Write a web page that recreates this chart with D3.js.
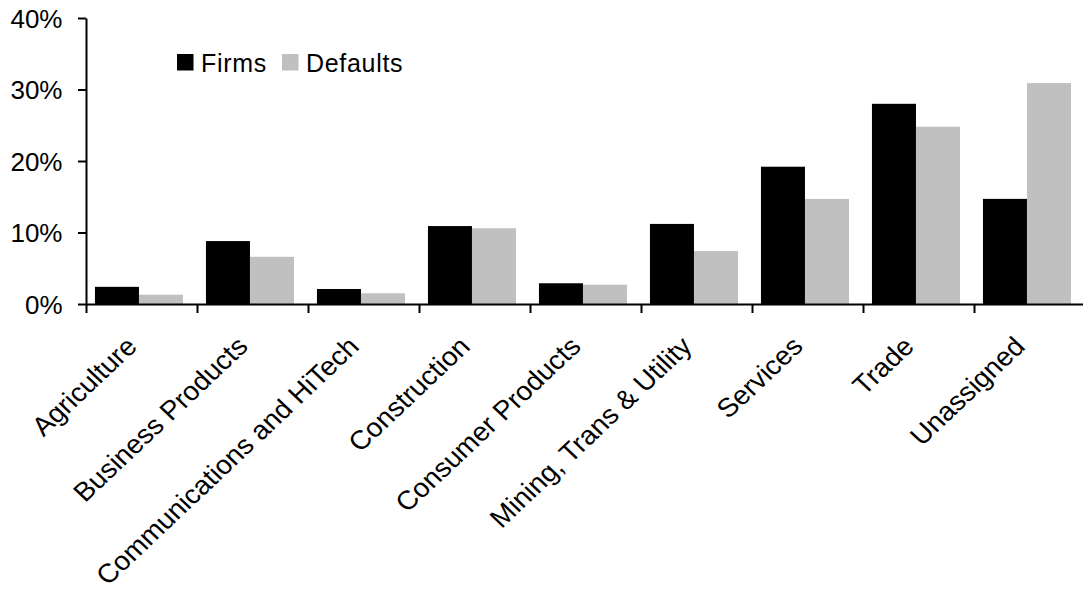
<!DOCTYPE html>
<html>
<head>
<meta charset="utf-8">
<script src="https://cdn.jsdelivr.net/npm/d3@7"></script>
<style>
  html, body { margin: 0; padding: 0; background: #fff; }
  svg { display: block; }
  text { font-family: Arial, "Liberation Sans", sans-serif; fill: #000; }
</style>
</head>
<body>
<svg id="chart" width="1083" height="592"></svg>
<script>
const categories = ["Agriculture", "Business Products", "Communications and HiTech", "Construction",
  "Consumer Products", "Mining, Trans & Utility", "Services", "Trade", "Unassigned"];
const seriesNames = ["Firms", "Defaults"];
const firms    = [2.4, 8.8, 2.1, 10.9, 2.9, 11.2, 19.2, 28.0, 14.7];
const defaults = [1.3, 6.6, 1.5, 10.6, 2.7, 7.4, 14.7, 24.8, 30.9];
const yTicks = [0, 10, 20, 30, 40];
const colors = { Firms: "#000000", Defaults: "#c0c0c0" };

const svg = d3.select("#chart");
const mLeft = 86, mRight = 1085, mTop = 18, mBottom = 304;

const x = d3.scaleBand().domain(categories).range([mLeft, mRight]).paddingInner(0).paddingOuter(0);
const xEdge = d3.scaleLinear().domain([0, categories.length]).range([mLeft, mRight]);
const x1 = d3.scaleBand().domain(seriesNames).range([0, x.bandwidth()])
  .paddingInner(0).paddingOuter(0.261).align(0.39);
const y = d3.scaleLinear().domain([0, 40]).range([mBottom, mTop]);

const data = categories.map((c, i) => ({ cat: c, Firms: firms[i], Defaults: defaults[i] }));

// bars
const g = svg.append("g");
data.forEach(d => {
  seriesNames.forEach(s => {
    g.append("rect")
      .attr("x", x(d.cat) + x1(s))
      .attr("y", y(d[s]))
      .attr("width", x1.bandwidth())
      .attr("height", y(0) - y(d[s]))
      .attr("fill", colors[s]);
  });
});

// y axis
const yAxis = svg.append("g").attr("transform", `translate(${mLeft},0)`)
  .call(d3.axisLeft(y).tickValues(yTicks).tickSize(8).tickSizeOuter(0).tickPadding(15.5)
    .tickFormat(d => d + "%"));
yAxis.select(".domain").attr("stroke", "#000").attr("stroke-width", 2);
yAxis.selectAll(".tick line").attr("stroke", "#000").attr("stroke-width", 2);
yAxis.selectAll(".tick text").style("font-size", "26px").attr("dy", "0.35em")
  .style("font-family", "Arial, 'Liberation Sans', sans-serif");

// x axis tick marks at category boundaries
const xTickAxis = svg.append("g").attr("transform", `translate(0,${mBottom})`)
  .call(d3.axisBottom(xEdge).tickValues(d3.range(categories.length + 1)).tickSize(9)
    .tickSizeOuter(0).tickFormat(""));
xTickAxis.select(".domain").attr("stroke", "#000").attr("stroke-width", 2);
xTickAxis.selectAll(".tick line").attr("stroke", "#000").attr("stroke-width", 2);

// x labels (slightly widened, as in the reference)
const xLab = svg.append("g").attr("transform", `translate(0,${mBottom})`)
  .call(d3.axisBottom(x).tickSize(0));
xLab.select(".domain").remove();
xLab.selectAll(".tick text")
  .attr("x", 0).attr("y", 0).attr("dy", 0)
  .attr("transform", "translate(-3,44) scale(1.06,1) rotate(-45)")
  .style("text-anchor", "end")
  .style("font-size", "26.5px")
  .style("font-family", "Arial, 'Liberation Sans', sans-serif");

// legend
const legend = svg.append("g").attr("transform", "translate(177,54)");
const legendOffsets = [0, 105];
seriesNames.forEach((s, i) => {
  const lg = legend.append("g").attr("transform", `translate(${legendOffsets[i]},0)`);
  lg.append("rect").attr("width", 16.5).attr("height", 16.5).attr("fill", colors[s]);
  lg.append("text").attr("x", 24).attr("y", 17.5).text(s)
    .style("font-size", "25px").style("letter-spacing", "0.7px");
});
</script>
</body>
</html>
